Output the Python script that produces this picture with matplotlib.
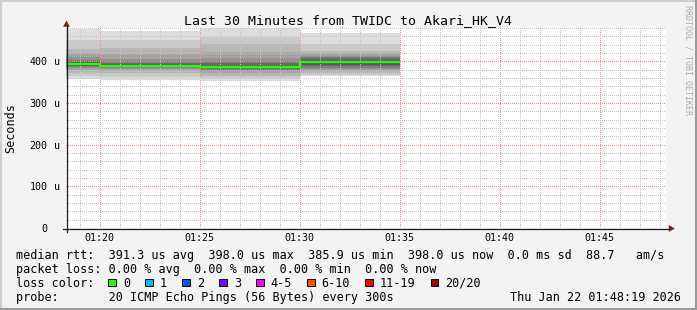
import matplotlib
matplotlib.use("Agg")
import matplotlib.pyplot as plt
import matplotlib.transforms as mtransforms
from matplotlib.lines import Line2D
from matplotlib.patches import Polygon, Rectangle

W, H, DPI = 697, 310, 100
MONO = "DejaVu Sans Mono"

# ---------------- data ----------------
title = "Last 30 Minutes from TWIDC to Akari_HK_V4"
y_label = "Seconds"
watermark = "RRDTOOL / TOBI OETIKER"
window_end = "01:48:19"
window_minutes = 30
step_minutes = 5

sample_times = ["01:20", "01:25", "01:30", "01:35"]
median_rtt_us = [393.0, 390.0, 385.9, 398.0]
pings_0120 = [357, 364, 372, 380, 384, 386, 388, 390, 391, 392,
              394, 396, 398, 401, 404, 410, 420, 429, 451, 478]
pings_0125 = [355, 363, 371, 377, 382, 385, 387, 388, 389, 389.5,
              390.5, 392, 394, 397, 401, 406, 417, 431, 452, 473]
pings_0130 = [353, 360, 365, 371, 376, 379, 381, 383, 384.5, 385.5,
              386.3, 388, 391, 395, 402, 408, 423, 442, 459, 479]
pings_0135 = [365, 368, 372, 376, 381, 385, 388, 392, 395, 397,
              399, 401, 404, 407, 410, 414, 419, 424, 442, 468]
pings_us = [pings_0120, pings_0125, pings_0130, pings_0135]

x_tick_labels = ["01:20", "01:25", "01:30", "01:35", "01:40", "01:45"]
y_tick_values = [0, 100, 200, 300, 400]
y_tick_numbers = ["0", "100", "200", "300", "400"]
y_tick_units = ["", "u", "u", "u", "u"]
y_max = 480
y_minor_step = 20

legend_row1 = "median rtt:  391.3 us avg  398.0 us max  385.9 us min  398.0 us now  0.0 ms sd  88.7   am/s"
legend_row2 = "packet loss: 0.00 % avg  0.00 % max  0.00 % min  0.00 % now"
legend_row3 = "loss color:"
legend_row4 = "probe:       20 ICMP Echo Pings (56 Bytes) every 300s"
date_text = "Thu Jan 22 01:48:19 2026"
loss_labels = ["0", "1", "2", "3", "4-5", "6-10", "11-19", "20/20"]
loss_colors = ["#26ff00", "#00b8ff", "#0059ff", "#7e00ff",
               "#ff00ff", "#ff5500", "#ff0000", "#a10000"]
median_color = "#26ff00"


def to_min(s):
    parts = [int(p) for p in s.split(":")]
    m = parts[0] * 60 + parts[1]
    if len(parts) > 2:
        m += parts[2] / 60.0
    return m


def fx(x):
    return x / W


def fy(y):
    return 1 - y / H


# ---------------- figure ----------------
fig = plt.figure(figsize=(W / DPI, H / DPI), dpi=DPI, facecolor="#f3f3f3")

# frame
fig.add_artist(Line2D([fx(1), fx(1)], [fy(0), fy(310)], color="#cfcfcf", lw=1.6,
                      transform=fig.transFigure))
fig.add_artist(Line2D([fx(0), fx(697)], [fy(1), fy(1)], color="#cfcfcf", lw=1.6,
                      transform=fig.transFigure))
fig.add_artist(Line2D([fx(695.5), fx(695.5)], [fy(0), fy(310)], color="#9c9c9c", lw=2.2,
                      transform=fig.transFigure))
fig.add_artist(Line2D([fx(0), fx(697)], [fy(308.5), fy(308.5)], color="#9c9c9c", lw=2.2,
                      transform=fig.transFigure))

ax_left, ax_right, ax_top, ax_bottom = 66.0, 666.0, 28.0, 228.0
ax = fig.add_axes([fx(ax_left), fy(ax_bottom), (ax_right - ax_left) / W,
                   (ax_bottom - ax_top) / H])
ax.set_facecolor("white")

t_end = to_min(window_end)
t_start = t_end - window_minutes
ax.set_xlim(t_start, t_end)
ax.set_ylim(0, y_max)

# smoke
half = len(pings_us[0]) // 2
for t, pings in zip(sample_times, pings_us):
    te = to_min(t)
    ts = te - step_minutes
    p = sorted(pings)
    n = len(p)
    for i in range(half):
        g = int(190 / half * (half - (i + 1))) + 50
        col = "#%02x%02x%02x" % (g, g, g)
        ax.fill_between([ts, te], [p[i], p[i]], [p[n - 1 - i], p[n - 1 - i]],
                        color=col, linewidth=0, zorder=1)

# median line
mx = [to_min(sample_times[0]) - step_minutes] + [to_min(t) for t in sample_times]
my = [median_rtt_us[0]] + list(median_rtt_us)
ax.plot(mx, my, drawstyle="steps-pre", color=median_color, lw=1.7, zorder=4,
        solid_capstyle="butt")

# grid
x_major = [to_min(s) for s in x_tick_labels]
x_minor = [m for m in range(int(t_start) + 1, int(t_end) + 1)]
ax.set_xticks(x_major)
ax.set_xticklabels(x_tick_labels, fontfamily=MONO, fontsize=7.2)
ax.set_xticks(x_minor, minor=True)
ax.set_yticks(y_tick_values)
ax.set_yticklabels([])
ax.set_yticks([v for v in range(0, y_max + 1, y_minor_step)], minor=True)
ax.tick_params(which="both", length=0)
ax.tick_params(axis="x", which="major", pad=3.6, colors="black")
ax.grid(which="minor", color="#c4c4c4", lw=0.72, linestyle=(0.5, (1, 1)), zorder=2)
ax.grid(which="major", color="#ff8a8a", lw=0.72, linestyle=(0.5, (1, 1)), zorder=3)
ax.set_axisbelow(False)
for s in ax.spines.values():
    s.set_visible(False)

# y tick labels (number column + unit column)
blend = mtransforms.blended_transform_factory(fig.transFigure, ax.transData)
for v, num, unit in zip(y_tick_values, y_tick_numbers, y_tick_units):
    ax.text(fx(47.4), v, num, transform=blend, ha="right", va="center_baseline",
            fontfamily=MONO, fontsize=7.2, color="black")
    if unit:
        ax.text(fx(53.6), v, unit, transform=blend, ha="left", va="center_baseline",
                fontfamily=MONO, fontsize=7.2, color="black")

# axis lines and arrows
axis_col = "#1a1a1a"
arrow_col = "#8b1a1a"
fig.add_artist(Line2D([fx(63), fx(669)], [fy(228.5), fy(228.5)], color=axis_col, lw=0.9,
                      transform=fig.transFigure))
fig.add_artist(Line2D([fx(66.5), fx(66.5)], [fy(232), fy(25)], color=axis_col, lw=0.9,
                      transform=fig.transFigure))
fig.add_artist(Polygon([[fx(66.5), fy(21)], [fx(63.5), fy(26.5)], [fx(69.5), fy(26.5)]],
                       closed=True, facecolor=arrow_col, edgecolor=arrow_col, lw=0.3,
                       transform=fig.transFigure))
fig.add_artist(Polygon([[fx(674.5), fy(228.5)], [fx(669), fy(225.5)], [fx(669), fy(231.5)]],
                       closed=True, facecolor=arrow_col, edgecolor=arrow_col, lw=0.3,
                       transform=fig.transFigure))

# texts
fig.text(fx(347.5), fy(24.2), title, ha="center", va="baseline", fontfamily=MONO,
         fontsize=9.57, color="black")
fig.text(fx(10.5), fy(128), y_label, ha="center", va="center", rotation=90,
         fontfamily=MONO, fontsize=8.5, color="black")
fig.text(fx(688), fy(60), watermark, ha="center", va="center", rotation=270,
         fontfamily=MONO, fontsize=6.0, color="#acacac")

lx = 16
fig.text(fx(lx), fy(258.6), legend_row1, ha="left", va="baseline", fontfamily=MONO,
         fontsize=8.5, color="black")
fig.text(fx(lx), fy(272.6), legend_row2, ha="left", va="baseline", fontfamily=MONO,
         fontsize=8.5, color="black")
fig.text(fx(lx), fy(286.6), legend_row3, ha="left", va="baseline", fontfamily=MONO,
         fontsize=8.5, color="black")
fig.text(fx(lx), fy(300.6), legend_row4, ha="left", va="baseline", fontfamily=MONO,
         fontsize=8.5, color="black")
fig.text(fx(680.5), fy(300.6), date_text, ha="right", va="baseline", fontfamily=MONO,
         fontsize=8.5, color="black")

# loss color boxes
char_w = 7.1
bx = 108.3
for lab, col in zip(loss_labels, loss_colors):
    fig.add_artist(Rectangle((fx(bx), fy(286.3)), 7.6 / W, 7.6 / H, facecolor=col,
                             edgecolor="black", lw=0.7, transform=fig.transFigure))
    fig.text(fx(bx + 14.7), fy(286.6), lab, ha="left", va="baseline", fontfamily=MONO,
             fontsize=8.5, color="black")
    bx += 14.7 + len(lab) * char_w + 15.1

fig.savefig("out.png", dpi=DPI, facecolor=fig.get_facecolor())
